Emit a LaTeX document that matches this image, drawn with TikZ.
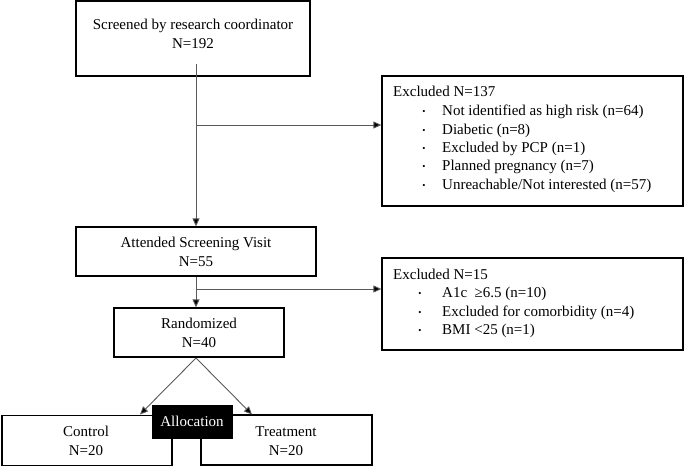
\documentclass[tikz,border=0pt]{standalone}
\usepackage{fontspec}
\setmainfont{Liberation Serif}
\usetikzlibrary{arrows.meta}
\begin{document}
\begin{tikzpicture}[x=1pt,y=-1pt,
  box/.style={draw=black,line width=1.3pt,rectangle,inner sep=0pt},
  txt/.style={inner sep=0pt,font=\fontsize{15}{19}\selectfont,align=center},
  ltxt/.style={inner sep=0pt,font=\fontsize{15}{19}\selectfont,anchor=base west},
  bul/.style={inner sep=0pt,font=\fontsize{9}{10}\selectfont,anchor=base},
  conn/.style={draw=black!65,line width=0.9pt},
  arr/.style={conn,-{Triangle[length=8pt,width=7pt,fill=black]}}]
\useasboundingbox (0,0) rectangle (685,467);
% boxes
\node[box,minimum width=234pt,minimum height=75pt] (b1) at (193,38.5) {};
\node[txt,anchor=base] (t1a) at (193,29) {Screened by research coordinator};
\node[txt,anchor=base] (t1b) at (193,48) {N=192};
\node[box,minimum width=240pt,minimum height=49pt] (b2) at (196,251.5) {};
\node[txt,anchor=base] (t2a) at (196,247) {Attended Screening Visit};
\node[txt,anchor=base] (t2b) at (196,266) {N=55};
\node[box,minimum width=170pt,minimum height=49pt] (b3) at (199,332.5) {};
\node[txt,anchor=base] (t3a) at (199,328) {Randomized};
\node[txt,anchor=base] (t3b) at (199,347) {N=40};
\node[box,minimum width=301pt,minimum height=130pt] (e1) at (532.5,141) {};
\node[box,minimum width=301pt,minimum height=92pt] (e2) at (532.5,304) {};
\node[box,minimum width=170pt,minimum height=50pt] (c) at (87,440.5) {};
\node[txt,anchor=base] (ca) at (86,436) {Control};
\node[txt,anchor=base] (cb) at (86,455) {N=20};
\node[box,minimum width=171pt,minimum height=50pt] (tr) at (286.5,440) {};
\node[txt,anchor=base] (tra) at (286,436) {Treatment};
\node[txt,anchor=base] (trb) at (286,455) {N=20};
\node[fill=black,draw=black,minimum width=80pt,minimum height=33pt,inner sep=0pt] (alloc) at (192,421.5) {};
\node[txt,anchor=base,text=white] (alt) at (192,426) {Allocation};
% exclusion texts
\node[ltxt] (x0) at (393,96) {Excluded N=137};
\node[bul] (xb1) at (424,114) {\textbullet};
\node[ltxt] (x1) at (442,115) {Not identified as high risk (n=64)};
\node[bul] (xb2) at (424,133) {\textbullet};
\node[ltxt] (x2) at (442,134) {Diabetic (n=8)};
\node[bul] (xb3) at (424,151) {\textbullet};
\node[ltxt] (x3) at (442,152) {Excluded by PCP (n=1)};
\node[bul] (xb4) at (424,169) {\textbullet};
\node[ltxt] (x4) at (442,170) {Planned pregnancy (n=7)};
\node[bul] (xb5) at (424,188) {\textbullet};
\node[ltxt] (x5) at (442,189) {Unreachable/Not interested (n=57)};
\node[ltxt] (y0) at (393,279) {Excluded N=15};
\node[bul] (yb1) at (420,296) {\textbullet};
\node[ltxt] (y1) at (442,297) {A1c\ \ ≥6.5 (n=10)};
\node[bul] (yb2) at (420,315) {\textbullet};
\node[ltxt] (y2) at (442,316) {Excluded for comorbidity (n=4)};
\node[bul] (yb3) at (420,333) {\textbullet};
\node[ltxt] (y3) at (442,334) {BMI <25 (n=1)};
% connectors
\coordinate (s1) at (196,64);
\coordinate (j1) at (196,125);
\coordinate (j2) at (196,289);
\draw[arr] (s1) -- (b2.north -| s1);
\draw[arr] (j1) -- (j1 -| e1.west);
\draw[arr] (b2.south) -- (b3.north -| b2.south);
\draw[arr] (j2) -- (j2 -| e2.west);
\coordinate (r) at (196,358);
\draw[arr] (r) -- (140,414.5);
\draw[arr] (r) -- (252,414.5);
\end{tikzpicture}
\end{document}
